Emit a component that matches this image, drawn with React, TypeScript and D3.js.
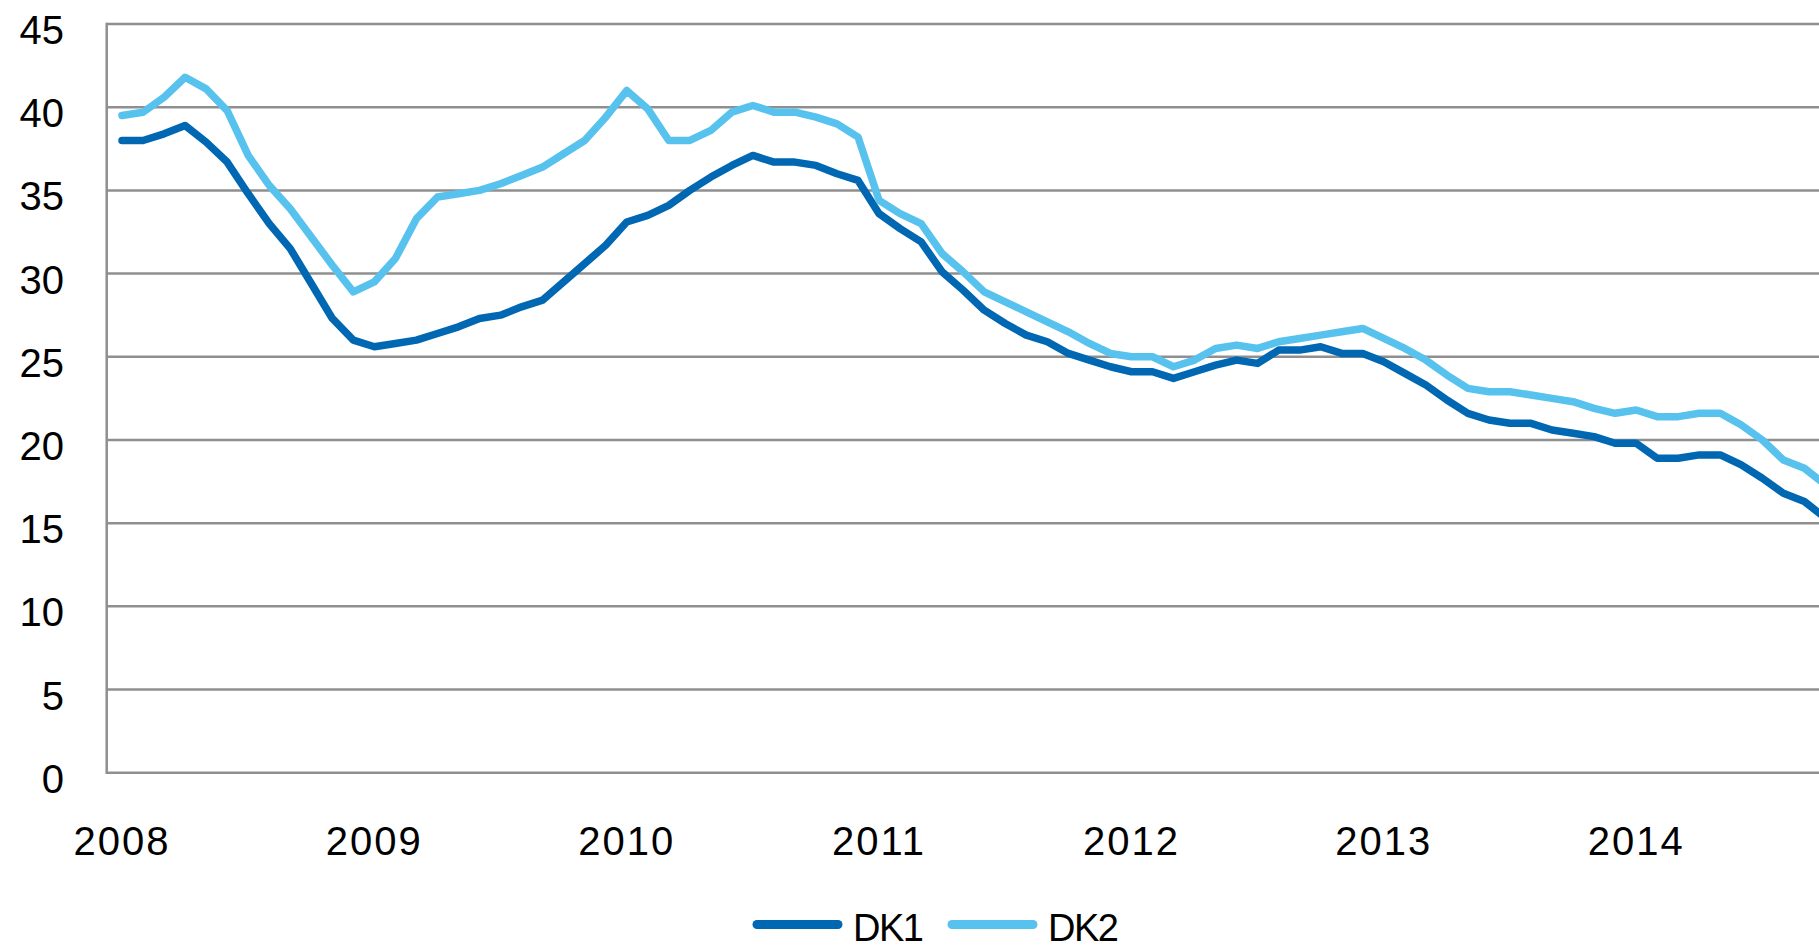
import React from "react";
import * as d3 from "d3";

// Monthly values, Jan 2008 onwards
const dk1: number[] = [
  38.0, 38.0, 38.4, 38.9, 37.9, 36.7, 34.8, 33.0, 31.5, 29.4, 27.3, 26.0,
  25.6, 25.8, 26.0, 26.4, 26.8, 27.3, 27.5, 28.0, 28.4, 29.5, 30.6, 31.7,
  33.1, 33.5, 34.1, 35.0, 35.8, 36.5, 37.1, 36.7, 36.7, 36.5, 36.0, 35.6,
  33.6, 32.7, 31.9, 30.1, 29.0, 27.8, 27.0, 26.3, 25.9, 25.2, 24.8, 24.4,
  24.1, 24.1, 23.7, 24.1, 24.5, 24.8, 24.6, 25.4, 25.4, 25.6, 25.2, 25.2,
  24.7, 24.0, 23.3, 22.4, 21.6, 21.2, 21.0, 21.0, 20.6, 20.4, 20.2, 19.8,
  19.8, 18.9, 18.9, 19.1, 19.1, 18.5, 17.7, 16.8, 16.3, 15.3,
];
const dk2: number[] = [
  39.5, 39.7, 40.6, 41.8, 41.1, 39.8, 37.1, 35.3, 33.9, 32.2, 30.5, 28.9,
  29.5, 30.9, 33.3, 34.6, 34.8, 35.0, 35.4, 35.9, 36.4, 37.2, 38.0, 39.4,
  41.0, 39.9, 38.0, 38.0, 38.6, 39.7, 40.1, 39.7, 39.7, 39.4, 39.0, 38.2,
  34.4, 33.6, 33.0, 31.2, 30.1, 28.9, 28.3, 27.7, 27.1, 26.5, 25.8, 25.2,
  25.0, 25.0, 24.4, 24.8, 25.5, 25.7, 25.5, 25.9, 26.1, 26.3, 26.5, 26.7,
  26.1, 25.5, 24.8, 23.9, 23.1, 22.9, 22.9, 22.7, 22.5, 22.3, 21.9, 21.6,
  21.8, 21.4, 21.4, 21.6, 21.6, 20.9, 20.0, 18.8, 18.3, 17.3,
];
const yearLabels: string[] = ["2008", "2009", "2010", "2011", "2012", "2013", "2014"];
const yTicks: number[] = [0, 5, 10, 15, 20, 25, 30, 35, 40, 45];
const seriesNames: string[] = ["DK1", "DK2"];
const seriesColors: string[] = ["#0067B2", "#58C2EE"];

const W = 1819;
const H = 950;
const FONT = "'Liberation Sans', Arial, sans-serif";

export default function App() {
  const axisX = 106.7;
  const x = d3.scaleLinear().domain([0, 72]).range([122, 122 + 72 * 21.03]);
  const y = d3.scaleLinear().domain([0, 45]).range([772.7, 24]);
  const line = d3
    .line<number>()
    .x((_, i) => x(i))
    .y((d) => y(d));
  const series = [dk1, dk2];
  const gridColor = "#8f8f8f";

  return (
    <svg
      width={W}
      height={H}
      style={{ position: "absolute", left: 0, top: 0, display: "block", background: "#fff" }}
      fontFamily={FONT}
    >
      {yTicks.map((t) => (
        <g key={t}>
          <line x1={axisX} x2={W} y1={y(t)} y2={y(t)} stroke={gridColor} strokeWidth={2.5} />
          <text x={64} y={y(t) + 20} textAnchor="end" fontSize={40} fill="#000">
            {t}
          </text>
        </g>
      ))}
      <line x1={axisX} x2={axisX} y1={y(45) - 1.2} y2={y(0) + 1.2} stroke={gridColor} strokeWidth={2.5} />
      {yearLabels.map((lab, k) => (
        <text
          key={lab}
          x={x(k * 12)}
          y={855}
          textAnchor="middle"
          fontSize={40}
          letterSpacing={2}
          fill="#000"
        >
          {lab}
        </text>
      ))}
      {series.map((s, k) => (
        <path
          key={k}
          d={line(s) || ""}
          fill="none"
          stroke={seriesColors[k]}
          strokeWidth={7.5}
          strokeLinejoin="round"
          strokeLinecap="round"
        />
      ))}
      {seriesNames.map((n, k) => {
        const x0 = k === 0 ? 757 : 952;
        return (
          <g key={n}>
            <line
              x1={x0}
              x2={x0 + 81}
              y1={924.5}
              y2={924.5}
              stroke={seriesColors[k]}
              strokeWidth={9}
              strokeLinecap="round"
            />
            <text x={x0 + 96} y={941} fontSize={38} letterSpacing={-1.5} fill="#000">
              {n}
            </text>
          </g>
        );
      })}
    </svg>
  );
}
